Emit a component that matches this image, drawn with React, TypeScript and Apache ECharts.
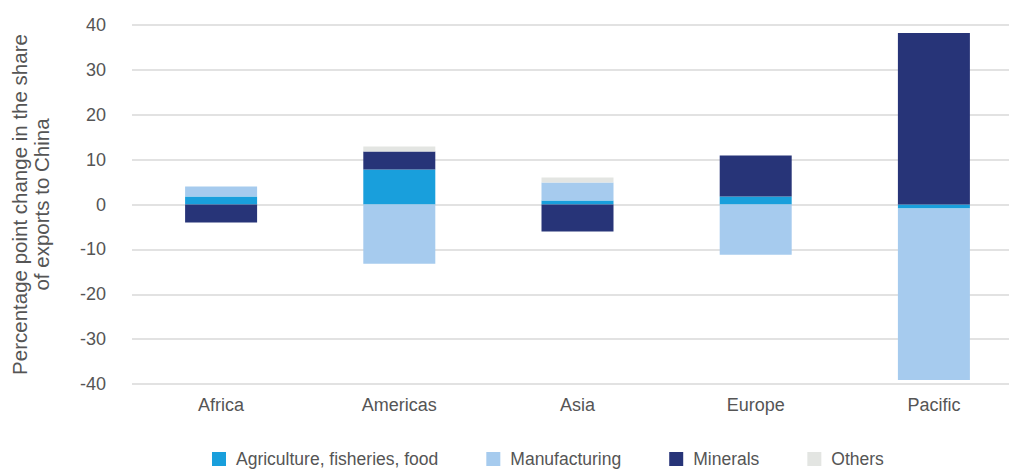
import React, { useEffect, useRef } from "react";
import * as echarts from "echarts";

const categories = ["Africa", "Americas", "Asia", "Europe", "Pacific"];
const agriculture = [1.8, 7.8, 0.9, 1.8, -0.9];
const manufacturing = [2.2, -13.2, 4.0, -11.2, -38.2];
const minerals = [-4.0, 4.0, -6.0, 9.1, 38.2];
const others = [0, 1.1, 1.1, 0, 0];
const seriesNames = ["Agriculture, fisheries, food", "Manufacturing", "Minerals", "Others"];
const seriesColors = ["#199fdc", "#a6cbee", "#273478", "#e3e5e2"];

const FONT = "'Liberation Sans', Arial, Helvetica, sans-serif";
const TEXT = "#555555";

export default function App() {
  const ref = useRef<HTMLDivElement>(null);
  useEffect(() => {
    if (!ref.current) return;
    const chart = echarts.init(ref.current, undefined, { renderer: "svg" });
    const values = [agriculture, manufacturing, minerals, others];
    chart.setOption({
      animation: false,
      textStyle: { fontFamily: FONT },
      grid: { left: 129, top: 25, bottom: 86, width: 894, containLabel: false },
      legend: {
        top: 450,
        left: 212,
        padding: 0,
        itemWidth: 14,
        itemHeight: 14,
        itemGap: 48,
        icon: "rect",
        textStyle: { color: TEXT, fontSize: 17.5, fontFamily: FONT, padding: [0, 0, 0, 5] },
        data: seriesNames,
      },
      xAxis: {
        type: "category",
        data: categories,
        axisTick: { show: false },
        axisLine: { show: false },
        axisLabel: { color: TEXT, fontSize: 18, margin: 12, fontFamily: FONT },
      },
      yAxis: {
        type: "value",
        min: -40,
        max: 40,
        interval: 10,
        name: "Percentage point change in the share\nof exports to China",
        nameLocation: "middle",
        nameGap: 80,
        nameTextStyle: { color: TEXT, fontSize: 20.5, fontFamily: FONT, lineHeight: 22 },
        axisLabel: { color: TEXT, fontSize: 18, margin: 26, fontFamily: FONT },
        axisLine: { show: false },
        axisTick: { show: false },
        splitLine: { lineStyle: { color: "#d9d9d9", width: 1.5 } },
      },
      series: seriesNames.map((name, i) => ({
        name,
        type: "bar",
        stack: "total",
        barWidth: 72,
        itemStyle: { color: seriesColors[i] },
        data: values[i],
      })),
    });
    return () => chart.dispose();
  }, []);
  return (
    <div style={{ width: 1009, height: 470, position: "absolute", left: 0, top: 0, overflow: "hidden" }}>
      <div ref={ref} style={{ width: 1030, height: 470 }} />
    </div>
  );
}
